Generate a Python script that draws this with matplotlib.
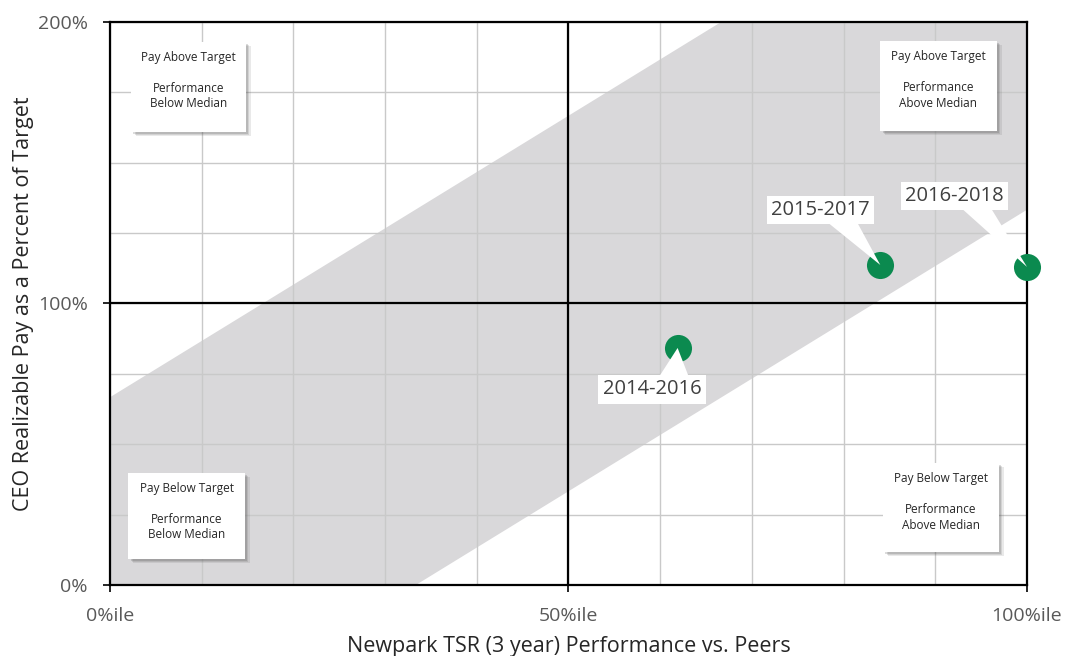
import matplotlib
matplotlib.use("Agg")
import matplotlib.pyplot as plt
from matplotlib.patches import Rectangle, Polygon

plt.rcParams['font.family'] = ['Open Sans', 'DejaVu Sans']

# Data
periods = ['2014-2016', '2015-2017', '2016-2018']
tsr_pctile = [61.9, 84.0, 100.0]
pay_pct = [84.2, 113.7, 113.0]

# alignment band (pay vs performance)
band_x = [0, 100]
band_lower = [-66.7, 133.3]
band_upper = [66.7, 266.7]

x_ticks = [0, 50, 100]
x_ticklabels = ['0%ile', '50%ile', '100%ile']
y_ticks = [0, 100, 200]
y_ticklabels = ['0%', '100%', '200%']

quadrants = [
    'Pay Above Target\n\nPerformance\nBelow Median',
    'Pay Above Target\n\nPerformance\nAbove Median',
    'Pay Below Target\n\nPerformance\nBelow Median',
    'Pay Below Target\n\nPerformance\nAbove Median',
]

fig = plt.figure(figsize=(10.65, 6.56), dpi=100)
ax = fig.add_axes([0.1033, 0.1082, 0.861, 0.8583])

ax.set_xlim(0, 100)
ax.set_ylim(0, 200)

# gray band
ax.fill_between(band_x, band_lower, band_upper, color='#d9d8da', lw=0, zorder=1)

# light grid
ax.set_xticks(range(0, 101, 10), minor=True)
ax.set_yticks(range(0, 201, 25), minor=True)
ax.grid(True, which='both', color='#c9c9c9', lw=1, zorder=2)
ax.set_axisbelow(False)

# center cross lines
ax.axvline(50, color='black', lw=1.6, zorder=3)
ax.axhline(100, color='black', lw=1.6, zorder=3)

for s in ax.spines.values():
    s.set_linewidth(1.6)
    s.set_color('black')
    s.set_zorder(4)

ax.set_xticks(x_ticks)
ax.set_xticklabels(x_ticklabels)
ax.set_yticks(y_ticks)
ax.set_yticklabels(y_ticklabels)
ax.tick_params(which='major', length=5, width=1.2, pad=11, labelsize=14,
               labelcolor='#595959', color='black')
ax.tick_params(which='minor', length=0)

ax.set_xlabel('Newpark TSR (3 year) Performance vs. Peers', fontsize=15.5,
              color='#262626', labelpad=8)
ax.set_ylabel('CEO Realizable Pay as a Percent of Target', fontsize=15.5,
              color='#262626', labelpad=3)

# quadrant note boxes (x0, y0, w, h in data units)
box_pos = [(2.3, 160.9, 12.5, 32.0), (84.0, 161.2, 12.7, 32.0),
           (2.0, 9.2, 12.7, 30.6), (84.3, 11.7, 12.6, 31.6)]
for (bx, by, bw, bh), txt in zip(box_pos, quadrants):
    # soft shadow from a few stacked faint rectangles
    for k, a in [(0.55, 0.12), (0.4, 0.15), (0.25, 0.2)]:
        ax.add_patch(Rectangle((bx + k, by - k * 2.6), bw, bh, fc='#505050',
                               ec='none', alpha=a, zorder=5))
    ax.add_patch(Rectangle((bx, by), bw, bh, fc='white', ec='none', zorder=6))
    ax.text(bx + bw / 2, by + bh - 3.2, txt, ha='center', va='top',
            fontsize=8.5, color='#262626', linespacing=1.25, zorder=7)

# points
ax.scatter(tsr_pctile, pay_pct, s=380, color='#0b8a4f', lw=0, zorder=8,
           clip_on=False)

# callout labels: white box plus a pointer from the box edge to the dot
label_pos = [(59.1, 69.6), (77.5, 133.2), (92.1, 138.2)]
for name, px, py, (lx, ly) in zip(periods, tsr_pctile, pay_pct, label_pos):
    edge = ly + 4.5 if py > ly else ly - 4.5
    ax.add_patch(Polygon([(lx + 0.8, edge), (lx + 4.0, edge), (px, py)],
                         closed=True, fc='white', ec='none', zorder=8.5,
                         clip_on=False))
    ax.text(lx, ly, name, ha='center', va='center', fontsize=14.5,
            color='#404040', zorder=9,
            bbox=dict(boxstyle='square,pad=0.22', fc='white', ec='none'))

fig.savefig('out.png', dpi=100)
